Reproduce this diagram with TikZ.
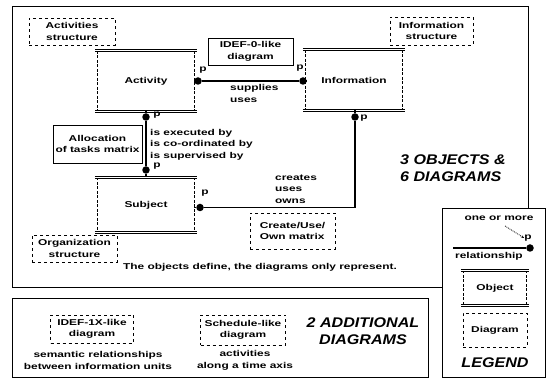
\documentclass[tikz,border=0pt]{standalone}
\usepackage{fontspec}
\newfontfamily\labf[FakeStretch=1.4]{Liberation Sans}
\newfontfamily\bigff[FakeStretch=1.15]{Liberation Sans}
\usetikzlibrary{arrows.meta}
\tikzset{
  lbl/.style={font=\labf\bfseries\fontsize{8.5}{11.5}\selectfont, inner sep=0pt, align=left},
  ctr/.style={lbl, align=center},
  bigtxt/.style={font=\bigff\bfseries\itshape\fontsize{14}{17}\selectfont, inner sep=0pt},
  frame/.style={draw, line width=0.9pt},
  obj/.style={ctr, minimum width=96pt, minimum height=60pt},
  objside/.style={line width=0.9pt, dash pattern=on 3pt off 1.5pt},
  objedge/.style={double, double distance=1.3pt, line width=0.7pt},
  diagbox/.style={draw, dashed, line width=0.8pt, ctr},
  solidbox/.style={draw, line width=0.8pt, ctr},
  dot/.style={circle, fill, inner sep=0pt, minimum size=7.5pt},
  conn/.style={line width=1.3pt},
}
\begin{document}
\begin{tikzpicture}[x=1pt,y=-1pt]
\useasboundingbox (0,0) rectangle (547,379);
% frames
\draw[frame] (528,208) -- (528,6) -- (12,6) -- (12,287) -- (442,287);
\draw[frame] (442,208) rectangle (545.5,377.5);
\draw[frame] (12,298) rectangle (428,377.5);

% objects
\node[obj] (act) at (146,81) {Activity};
\node[obj] (info) at (354,80) {Information};
\node[obj, minimum height=55pt] (subj) at (146,205) {Subject};
\node[obj, minimum width=62pt, minimum height=35pt] (lobj) at (495,288) {Object};
\foreach \n in {act,info,subj,lobj}{
  \draw[objside] (\n.north west) -- (\n.south west);
  \draw[objside] (\n.north east) -- (\n.south east);
  \draw[objedge] ([xshift=-3pt]\n.north west) -- ([xshift=3pt]\n.north east);
  \draw[objedge] ([xshift=-3pt]\n.south west) -- ([xshift=3pt]\n.south east);
}

% diagrams
\node[diagbox, minimum width=86pt, minimum height=27pt] (actstr) at (72,31.5) {Activities\\structure};
\node[diagbox, minimum width=83pt, minimum height=28pt] (infstr) at (431.5,31) {Information\\structure};
\node[solidbox, minimum width=85pt, minimum height=27pt] (idef0) at (250.5,51.5) {IDEF-0-like\\diagram};
\node[solidbox, minimum width=89pt, minimum height=38pt] (alloc) at (97.5,144) {Allocation\\of tasks matrix};
\node[diagbox, lbl, minimum width=85pt, minimum height=36pt] (cuo) at (292.5,231) {Create/Use/\\Own matrix};
\node[diagbox, minimum width=85pt, minimum height=27pt] (orgstr) at (74.5,248.5) {Organization\\structure};

% relationship dots
\node[dot] (d1) at (198,81) {};
\node[dot] (d2) at (303,81) {};
\node[dot] (d3) at (146,117) {};
\node[dot] (d4) at (146,170) {};
\node[dot] (d5) at (355,117) {};
\node[dot] (d6) at (200,207.5) {};
\draw[conn] (act.east |- d1) -- (d1) -- (d2) -- (info.west |- d2);
\draw[conn] (act.south) -- (d3) -- (d4) -- (subj.north);
\draw[conn] (info.south -| d5) -- (d5) |- (d6) -- (subj.east |- d6);

% p labels
\node[lbl] (p1) at (203,70) {p};
\node[lbl] (p2) at (300,68) {p};
\node[lbl] (p3) at (157,115) {p};
\node[lbl] (p4) at (157,166) {p};
\node[lbl] (p5) at (364,118) {p};
\node[lbl] (p6) at (205,193) {p};

% relation texts
\node[lbl, anchor=west] (sup) at (230,93.5) {supplies\\uses};
\node[lbl, anchor=west] (exe) at (150,144.5) {is executed by\\is co-ordinated by\\is supervised by};
\node[lbl, anchor=west] (cre) at (275,189) {creates\\uses\\owns};
\node[lbl] (define) at (260,267) {The objects define, the diagrams only represent.};
\node[bigtxt, anchor=west, align=left] (three) at (400,168) {3 OBJECTS \&\\6 DIAGRAMS};

% additional diagrams
\node[diagbox, minimum width=83pt, minimum height=28pt] (idef1x) at (92,329) {IDEF-1X-like\\diagram};
\node[ctr] (sem) at (98,360.5) {semantic relationships\\between information units};
\node[diagbox, minimum width=85pt, minimum height=30pt] (sched) at (243,330) {Schedule-like\\diagram};
\node[ctr] (alng) at (245,360.5) {activities\\along a time axis};
\node[bigtxt, align=center] (two) at (363,331) {2 ADDITIONAL\\DIAGRAMS};

% legend
\node[lbl] (oom) at (499,218) {one or more};
\node[dot] (ld) at (530,248) {};
\coordinate (lstart) at (453,248);
\draw[conn] (lstart) -- (ld);
\coordinate (oa) at (505,226);
\node[lbl] (lp) at (528,238) {p};
\draw[densely dotted, line width=0.8pt, -{Stealth[length=3pt]}] (oa) -- (lp.west);
\node[lbl, anchor=west] (rel) at (455,256) {relationship};
\node[diagbox, minimum width=64pt, minimum height=34pt] (ldiag) at (495,330) {Diagram};
\node[bigtxt] (leg) at (495,363) {LEGEND};
\end{tikzpicture}
\end{document}
